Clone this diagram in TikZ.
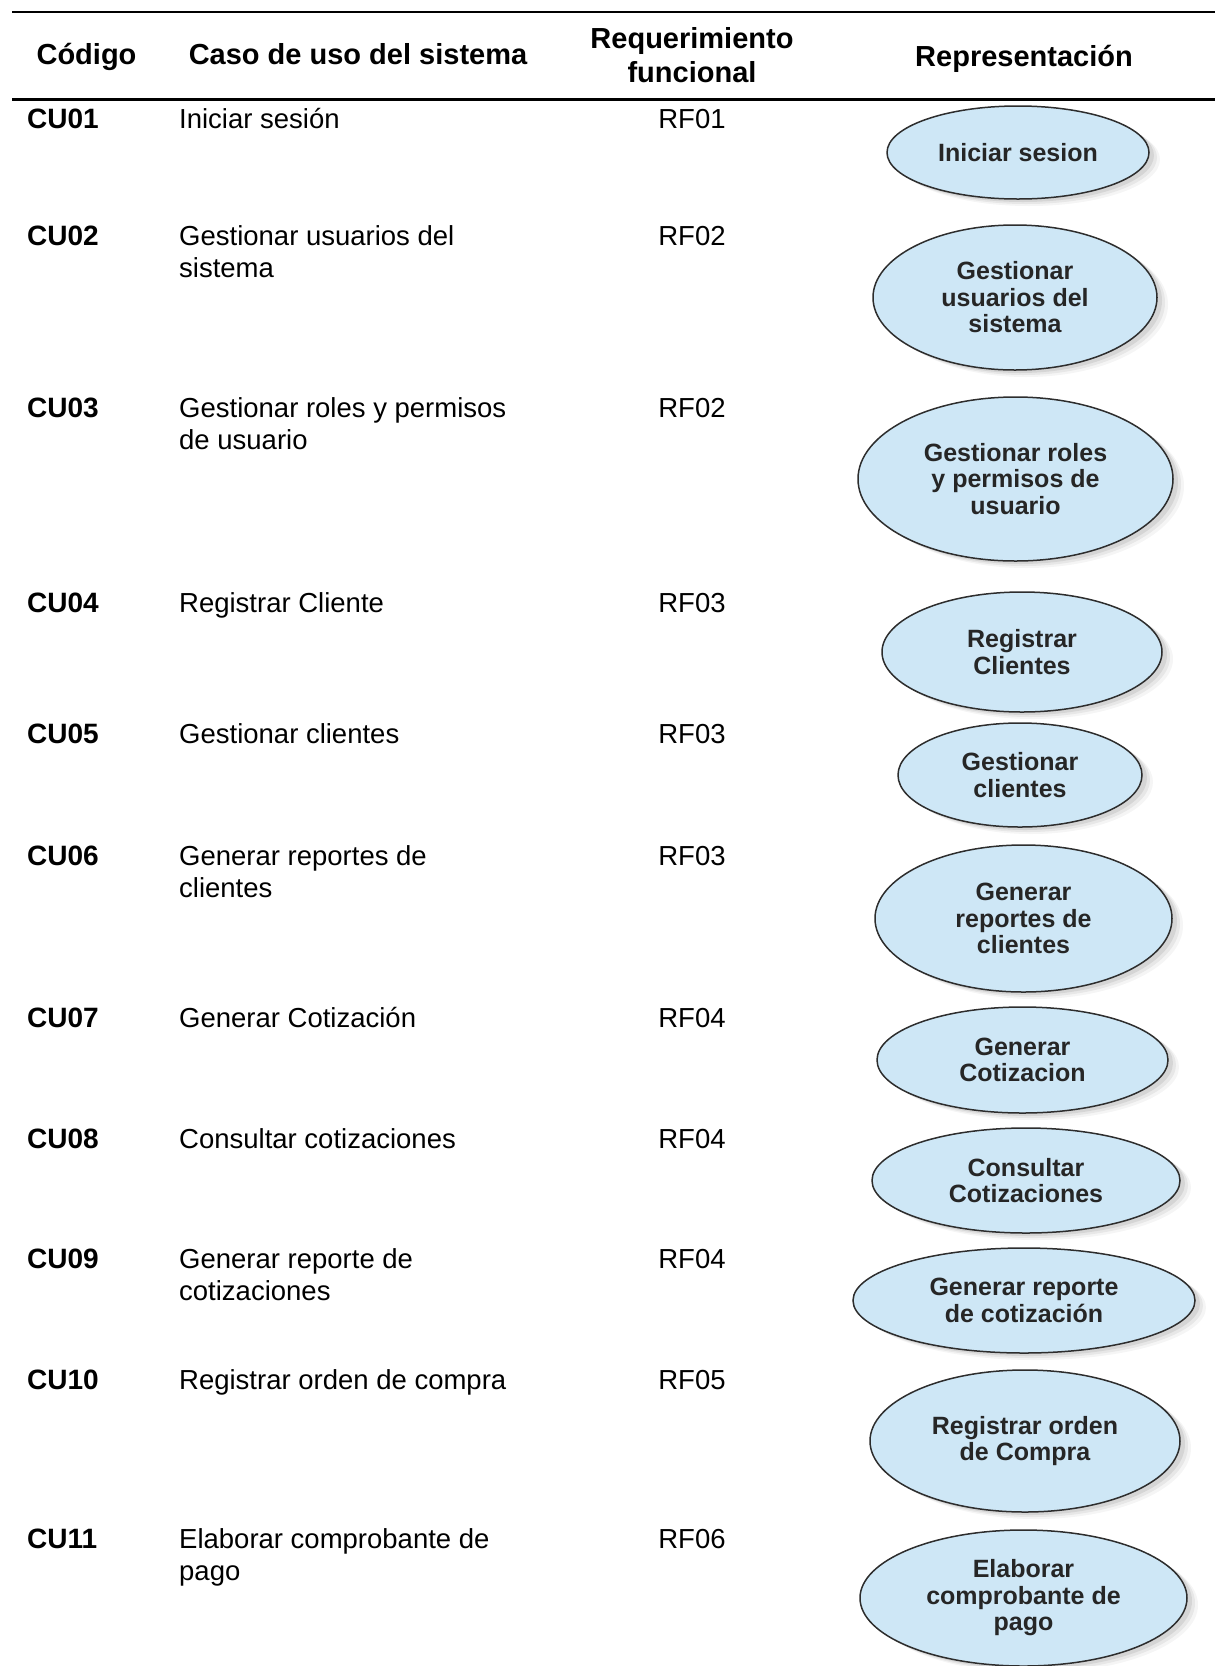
\documentclass[tikz,border=0pt]{standalone}
\usepackage{fontspec}
\setmainfont{Liberation Sans}
\usetikzlibrary{shapes.geometric,shadows}
\definecolor{ucfill}{RGB}{206,231,246}
\definecolor{ucline}{RGB}{45,45,45}
\definecolor{uctext}{RGB}{38,38,38}
\begin{document}
\begin{tikzpicture}[x=1pt,y=-1pt,
  rule/.style={line width=2.2pt, black},
  head/.style={font=\fontsize{29}{34}\selectfont\bfseries, inner sep=0pt, anchor=base},
  code/.style={font=\fontsize{28}{32}\selectfont\bfseries, inner sep=0pt, anchor=base west},
  body/.style={font=\fontsize{27.5}{32}\selectfont, inner sep=0pt, anchor=base west},
  rf/.style={font=\fontsize{27.5}{32}\selectfont, inner sep=0pt, anchor=base},
  usecase/.style={ellipse, draw=ucline, line width=1.5pt, fill=ucfill, inner sep=0pt,
    text=uctext, align=center, font=\fontsize{25}{26.5}\selectfont\bfseries,
    general shadow={shadow xshift=11pt, shadow yshift=-7pt, fill=black, opacity=0.04},
    general shadow={shadow xshift=8pt, shadow yshift=-5pt, fill=black, opacity=0.06},
    general shadow={shadow xshift=5pt, shadow yshift=-3pt, fill=black, opacity=0.08}},
]
\useasboundingbox (0,0) rectangle (1215,1666);
\clip (0,0) rectangle (1215,1666);

% table rules
\coordinate (topL) at (12,12);
\coordinate (topR) at (1215,12);
\coordinate (midL) at (12,99.5);
\coordinate (midR) at (1215,99.5);
\draw[rule] (topL) -- (topR);
\draw[rule] (midL) -- (midR);

% header
\node[head] (hcod) at (86.5,64) {Código};
\node[head] (hcaso) at (358,64) {Caso de uso del sistema};
\node[head] (hreq1) at (692,48) {Requerimiento};
\node[head] (hreq2) at (692,82) {funcional};
\node[head] (hrep) at (1024,66) {Representación};

% codes
\node[code] (c01) at (27,128) {CU01};
\node[code] (c02) at (27,245) {CU02};
\node[code] (c03) at (27,417) {CU03};
\node[code] (c04) at (27,612) {CU04};
\node[code] (c05) at (27,743) {CU05};
\node[code] (c06) at (27,865) {CU06};
\node[code] (c07) at (27,1027) {CU07};
\node[code] (c08) at (27,1148) {CU08};
\node[code] (c09) at (27,1268) {CU09};
\node[code] (c10) at (27,1389) {CU10};
\node[code] (c11) at (27,1548) {CU11};

% use case names
\node[body] (n01) at (179,128) {Iniciar sesión};
\node[body] (n02) at (179,245) {Gestionar usuarios del};
\node[body] (n02b) at (179,277) {sistema};
\node[body] (n03) at (179,417) {Gestionar roles y permisos};
\node[body] (n03b) at (179,449) {de usuario};
\node[body] (n04) at (179,612) {Registrar Cliente};
\node[body] (n05) at (179,743) {Gestionar clientes};
\node[body] (n06) at (179,865) {Generar reportes de};
\node[body] (n06b) at (179,897) {clientes};
\node[body] (n07) at (179,1027) {Generar Cotización};
\node[body] (n08) at (179,1148) {Consultar cotizaciones};
\node[body] (n09) at (179,1268) {Generar reporte de};
\node[body] (n09b) at (179,1300) {cotizaciones};
\node[body] (n10) at (179,1389) {Registrar orden de compra};
\node[body] (n11) at (179,1548) {Elaborar comprobante de};
\node[body] (n11b) at (179,1580) {pago};

% functional requirements
\node[rf] (r01) at (692,128) {RF01};
\node[rf] (r02) at (692,245) {RF02};
\node[rf] (r03) at (692,417) {RF02};
\node[rf] (r04) at (692,612) {RF03};
\node[rf] (r05) at (692,743) {RF03};
\node[rf] (r06) at (692,865) {RF03};
\node[rf] (r07) at (692,1027) {RF04};
\node[rf] (r08) at (692,1148) {RF04};
\node[rf] (r09) at (692,1268) {RF04};
\node[rf] (r10) at (692,1389) {RF05};
\node[rf] (r11) at (692,1548) {RF06};

% use case ellipses
\node[usecase, minimum width=262pt, minimum height=93pt] (e01) at (1018,152.5) {Iniciar sesion};
\node[usecase, minimum width=284pt, minimum height=145pt] (e02) at (1015,297.5) {Gestionar\\usuarios del\\sistema};
\node[usecase, minimum width=315pt, minimum height=164pt] (e03) at (1015.5,479) {Gestionar roles\\y permisos de\\usuario};
\node[usecase, minimum width=280pt, minimum height=120pt] (e04) at (1022,652) {Registrar\\Clientes};
\node[usecase, minimum width=244pt, minimum height=104pt] (e05) at (1020,775) {Gestionar\\clientes};
\node[usecase, minimum width=297pt, minimum height=147pt] (e06) at (1023.5,918.5) {Generar\\reportes de\\clientes};
\node[usecase, minimum width=291pt, minimum height=106pt] (e07) at (1022.5,1060) {Generar\\Cotizacion};
\node[usecase, minimum width=308pt, minimum height=105pt] (e08) at (1026,1180.5) {Consultar\\Cotizaciones};
\node[usecase, minimum width=342pt, minimum height=105pt] (e09) at (1024,1300.5) {Generar reporte\\de cotización};
\node[usecase, minimum width=310pt, minimum height=142pt] (e10) at (1025,1441) {Registrar orden\\de Compra};
\node[usecase, minimum width=327pt, minimum height=136pt] (e11) at (1023.5,1598) {Elaborar\\comprobante de\\pago};
\end{tikzpicture}
\end{document}
